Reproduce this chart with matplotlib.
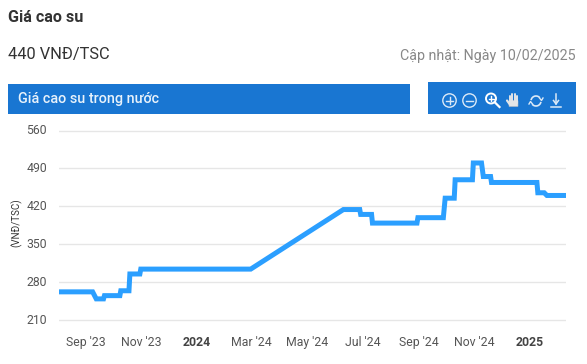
import matplotlib
matplotlib.use("Agg")
import matplotlib.pyplot as plt
from matplotlib.patches import Rectangle, Circle, FancyBboxPatch, Arc
from matplotlib.transforms import ScaledTranslation
import pandas as pd

plt.rcParams['font.family'] = ['Roboto', 'DejaVu Sans']

dates = ['2023-08-02','2023-09-08','2023-09-12','2023-09-20','2023-09-21','2023-10-08','2023-10-09',
         '2023-10-18','2023-10-19','2023-10-30','2023-10-31','2024-02-29','2024-06-10','2024-06-28','2024-06-29',
         '2024-07-11','2024-07-12','2024-08-30','2024-08-31','2024-09-28','2024-09-30','2024-10-10','2024-10-11',
         '2024-10-30','2024-10-31','2024-11-09','2024-11-11','2024-11-19','2024-11-20','2025-01-09','2025-01-10',
         '2025-01-17','2025-01-20','2025-02-10']
values = [262,262,249,249,255,255,264,264,295,295,304,304,414,414,405,405,389,389,399,399,435,435,469,
          469,500,500,475,475,464,464,445,445,440,440]
y_ticks = [210,280,350,420,490,560]
x_tick_dates = ['2023-09-01','2023-11-01','2024-01-01','2024-03-01','2024-05-01','2024-07-01','2024-09-01','2024-11-01','2025-01-01']
x_tick_labels = ["Sep '23","Nov '23","2024","Mar '24","May '24","Jul '24","Sep '24","Nov '24","2025"]

W, H = 587, 364
fig = plt.figure(figsize=(W/100, H/100), dpi=100, facecolor='white')

bg = fig.add_axes([0,0,1,1], zorder=0)
bg.set_xlim(0,W); bg.set_ylim(H,0); bg.axis('off')
BLUE = '#1976d2'
bg.add_patch(Rectangle((8,84),402,30,color=BLUE,lw=0))
bg.add_patch(Rectangle((428,82),148,32,color=BLUE,lw=0))
bg.text(8,17,'Giá cao su',fontsize=11.6,fontweight='bold',color='#333333',va='center')
bg.text(8,54,'440 VNĐ/TSC',fontsize=11.8,color='#333333',va='center')
bg.text(576,56,'Cập nhật: Ngày 10/02/2025',fontsize=10.3,color='#888888',va='center',ha='right')
bg.text(18,98.5,'Giá cao su trong nước',fontsize=10.35,fontweight='medium',color='#e8f2fb',va='center')

ic = '#dbe9f7'
lw = 1.0
for cx in (449.5,469.5):
    bg.add_patch(Circle((cx,100.5),6.7,fill=False,ec=ic,lw=lw))
    bg.plot([cx-3.7,cx+3.7],[100.5,100.5],color=ic,lw=lw)
bg.plot([449.5,449.5],[96.8,104.2],color=ic,lw=lw)
bg.add_patch(Circle((491,98.5),5,fill=False,ec='white',lw=1.4))
bg.plot([488.5,493.5],[98.5,98.5],color='white',lw=1)
bg.plot([491,491],[96,101],color='white',lw=1)
bg.plot([494.7,499.5],[102.2,107],color='white',lw=1.6)
for hx,top in ((510,96),(512.3,94),(514.6,94),(516.9,96)):
    bg.plot([hx,hx],[top,103],color='#e4e6e8',lw=1.4,solid_capstyle='round')
bg.add_patch(FancyBboxPatch((509.5,101),8,5,boxstyle='round,pad=0.5',fc='#e4e6e8',ec='#b8bcc0',lw=0.4))
bg.plot([507,509.5],[100.5,104],color='#e4e6e8',lw=1.6,solid_capstyle='round')
bg.add_patch(Arc((536,101),10,10,angle=0,theta1=190,theta2=320,ec=ic,lw=1.2))
bg.add_patch(Arc((536,101),10,10,angle=0,theta1=10,theta2=140,ec=ic,lw=1.2))
bg.plot([539.5,541.5,543],[98,100.5,98],color=ic,lw=1)
bg.plot([529,530.5,532.5],[104,101.5,104],color=ic,lw=1)
bg.plot([551,561],[106.5,106.5],color=ic,lw=1.1)
bg.plot([556,556],[94,103.5],color=ic,lw=1.1)
bg.plot([553.5,556,558.5],[100.5,104,100.5],color=ic,lw=1.1)

AX_TOP, AX_BOT = 124, 331
px_per_unit = (320-130.5)/350
y_top = 560 + (130.5-AX_TOP)/px_per_unit
y_bot = 210 - (AX_BOT-320)/px_per_unit
ax = fig.add_axes([59/W, 1-AX_BOT/H, (566-59)/W, (AX_BOT-AX_TOP)/H], zorder=1)
ax.patch.set_alpha(0)
xs = pd.to_datetime(dates)
ax.set_xlim(pd.Timestamp('2023-08-02'), pd.Timestamp('2025-02-10'))
ax.set_ylim(y_bot, y_top)
ax.set_yticks(y_ticks)
ax.set_xticks(pd.to_datetime(x_tick_dates))
ax.set_xticklabels(x_tick_labels)
ax.grid(axis='y', color='#e6e6e6', lw=1)
ax.set_axisbelow(True)
for s in ax.spines.values():
    s.set_visible(False)
ax.tick_params(axis='both', length=0, labelsize=8.8, labelcolor='#555555')
ax.tick_params(axis='y', pad=8.5)
ax.tick_params(axis='x', pad=3.5)
shift = ScaledTranslation(0, 1.5/100, fig.dpi_scale_trans)
for lab in ax.get_yticklabels():
    lab.set_transform(lab.get_transform() + shift)
for lab in ax.get_xticklabels():
    if lab.get_text() in ('2024','2025'):
        lab.set_fontweight('bold')
        lab.set_color('#444444')
ax.plot(xs, values, color='#2b9fff', lw=3.6, solid_joinstyle='miter', solid_capstyle='butt', clip_on=False)

bg.text(17,223,'(VNĐ/TSC)',fontsize=7,rotation=90,color='#333333',va='center',ha='center')

fig.savefig('out.png', dpi=100, facecolor='white')
